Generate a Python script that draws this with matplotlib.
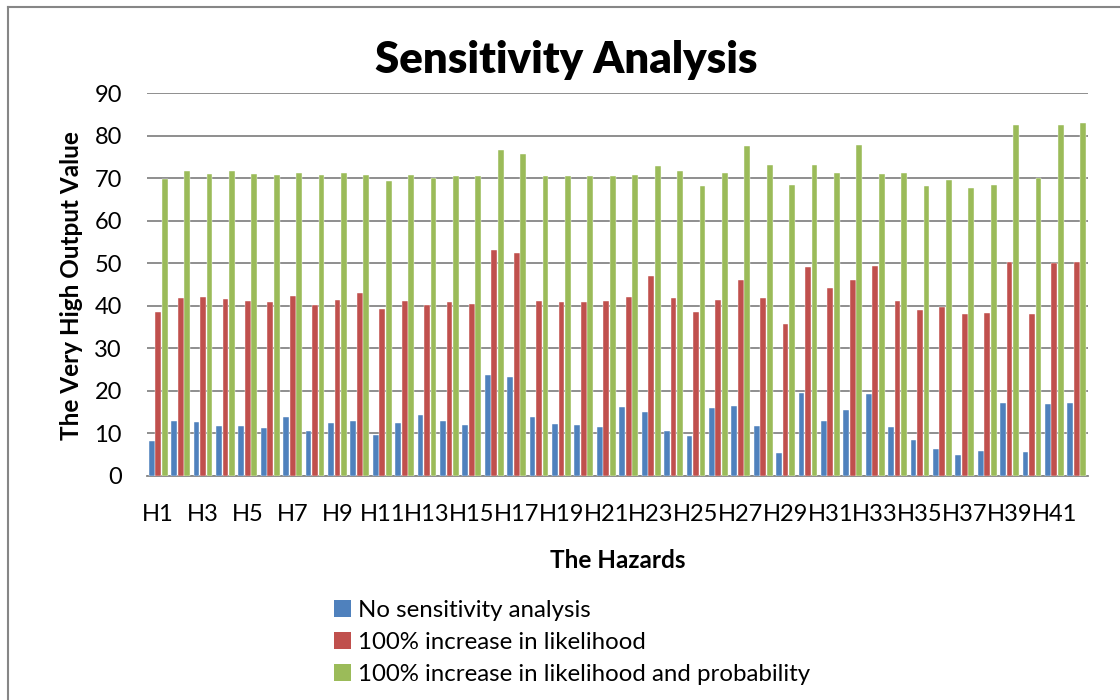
import matplotlib.pyplot as plt
from matplotlib.lines import Line2D
from matplotlib.patches import Patch
import numpy as np

plt.rcParams['font.family'] = ['Lato', 'DejaVu Sans']

hazards = ['H' + str(i) for i in range(1, 43)]

no_sens = [8.2, 13.0, 12.7, 11.8, 11.8, 11.2, 13.8, 10.5, 12.4, 12.9,
           9.6, 12.4, 14.4, 12.9, 12.0, 23.7, 23.3, 13.8, 12.2, 12.0,
           11.4, 16.2, 15.1, 10.6, 9.5, 16.0, 16.4, 11.8, 5.5, 19.6,
           12.9, 15.5, 19.2, 11.4, 8.5, 6.4, 4.9, 5.9, 17.2, 5.6,
           16.9, 17.2]
like_100 = [38.6, 41.8, 42.1, 41.6, 41.2, 41.0, 42.4, 40.2, 41.4, 42.9,
            39.3, 41.2, 40.2, 40.9, 40.5, 53.1, 52.5, 41.2, 40.9, 40.9,
            41.2, 42.1, 47.1, 41.9, 38.6, 41.4, 46.0, 41.8, 35.8, 49.1,
            44.2, 46.0, 49.4, 41.2, 39.1, 39.8, 38.1, 38.4, 50.4, 38.1,
            50.1, 50.4]
like_prob_100 = [69.9, 71.6, 71.0, 71.6, 71.0, 70.8, 71.2, 70.8, 71.2, 70.7,
                 69.3, 70.7, 70.0, 70.4, 70.4, 76.5, 75.7, 70.5, 70.5, 70.5,
                 70.5, 70.7, 72.9, 71.6, 68.1, 71.2, 77.6, 73.1, 68.4, 73.1,
                 71.2, 77.7, 71.0, 71.2, 68.2, 69.5, 67.7, 68.4, 82.4, 70.0,
                 82.5, 82.9]

series = [no_sens, like_100, like_prob_100]
names = ['No sensitivity analysis', '100% increase in likelihood',
         '100% increase in likelihood and probability']
colors = ['#4F81BD', '#C0504D', '#9BBB59']

fig = plt.figure(figsize=(11.2, 7), dpi=100)
ax = fig.add_axes([147 / 1120, 224 / 700, 941 / 1120, 383 / 700])

x = np.arange(len(hazards))
w = 0.26
for k, (vals, c) in enumerate(zip(series, colors)):
    ax.bar(x + (k - 1) * 0.29, vals, width=w, color=c, zorder=3,
           edgecolor='white', linewidth=0.3)

ax.set_xlim(-0.5, len(hazards) - 0.5)
ax.set_ylim(0, 90)
ax.set_yticks(range(0, 91, 10))
ax.yaxis.grid(True, color='#868686', linewidth=1.3, zorder=0)
ax.set_xticks(x[::2])
ax.set_xticklabels(hazards[::2])
ax.tick_params(axis='both', length=0, labelsize=17, colors='black')
ax.tick_params(axis='x', pad=20)
ax.tick_params(axis='y', pad=18)
for s in ['top', 'right', 'left']:
    ax.spines[s].set_visible(False)
ax.spines['bottom'].set_color('#868686')
ax.spines['bottom'].set_linewidth(1.3)

fig.text(566 / 1120, 1 - 60 / 700, 'Sensitivity Analysis', ha='center',
         va='center', fontsize=31.5, fontweight='heavy')
fig.text(72 / 1120, 1 - 286 / 700, 'The Very High Output Value', rotation=90,
         ha='center', va='center', fontsize=17.5, fontweight='bold')
fig.text(618 / 1120, 1 - 560 / 700, 'The Hazards', ha='center', va='center',
         fontsize=17.5, fontweight='bold')

handles = [Patch(facecolor=c) for c in colors]
fig.legend(handles, names, loc='upper left',
           bbox_to_anchor=(322 / 1120, 1 - 588 / 700), frameon=False,
           fontsize=17.3, handlelength=0.7, handleheight=0.7,
           handletextpad=0.3, labelspacing=0.45, borderpad=0)

# outer chart frame
fig.add_artist(Line2D([8 / 1120, 8 / 1120], [0, 1 - 7 / 700],
                      transform=fig.transFigure, color='#868686', lw=1.5))
fig.add_artist(Line2D([8 / 1120, 1], [1 - 7 / 700, 1 - 7 / 700],
                      transform=fig.transFigure, color='#868686', lw=1.5))

fig.savefig('out.png', dpi=100)
